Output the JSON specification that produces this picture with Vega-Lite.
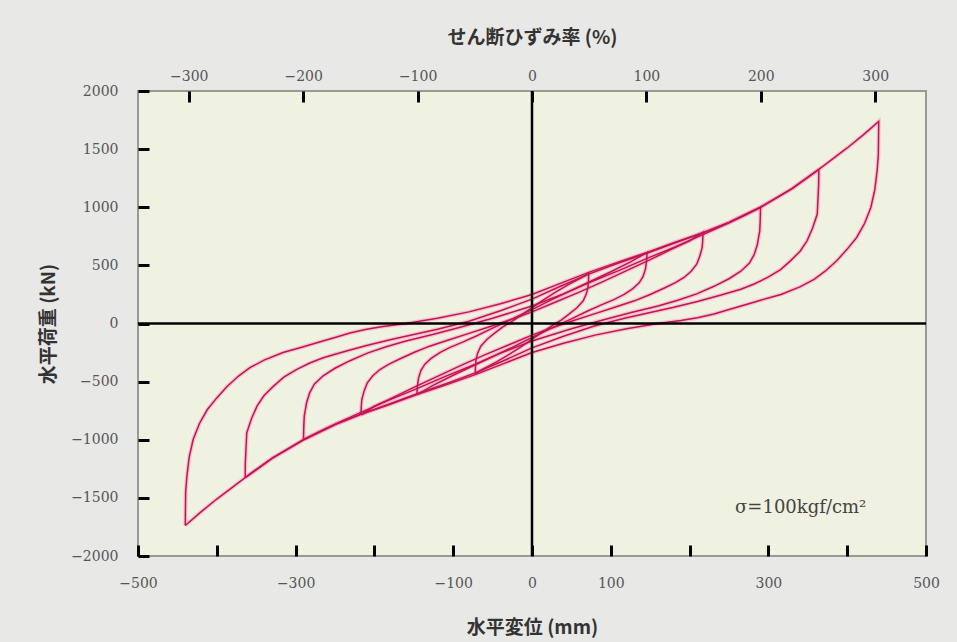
{
  "$schema": "https://vega.github.io/schema/vega-lite/v6.json",
  "width": 788,
  "height": 465,
  "autosize": {"type": "none"},
  "padding": {"left": 138, "top": 91, "right": 31, "bottom": 86},
  "background": "#e8e8e6",
  "config": {
    "view": {"fill": "#eff1e1", "stroke": "#9a9a92", "strokeWidth": 2},
    "axis": {
      "labelFont": "DejaVu Serif",
      "labelFontSize": 14,
      "labelColor": "#555555",
      "titleFont": "Noto Sans CJK JP",
      "titleFontSize": 19,
      "titleFontWeight": "bold",
      "titleColor": "#333333",
      "domain": false,
      "grid": false,
      "tickColor": "#000000",
      "tickWidth": 3,
      "tickSize": -11,
      "labelOverlap": false,
      "labelFlush": false,
      "format": "d"
    }
  },
  "datasets": {
    "loops": [
      {"c":1,"i":0,"x":-72,"y":-430},{"c":1,"i":1,"x":-71.7,"y":-370},{"c":1,"i":2,"x":-71,"y":-310},{"c":1,"i":3,"x":-69,"y":-255},{"c":1,"i":4,"x":-65,"y":-195},{"c":1,"i":5,"x":-57,"y":-135},{"c":1,"i":6,"x":-47,"y":-80},{"c":1,"i":7,"x":-37,"y":-30},{"c":1,"i":8,"x":-24,"y":25},{"c":1,"i":9,"x":-11,"y":85},{"c":1,"i":10,"x":0,"y":135},{"c":1,"i":11,"x":15,"y":205},{"c":1,"i":12,"x":30,"y":270},{"c":1,"i":13,"x":45,"y":330},{"c":1,"i":14,"x":60,"y":385},{"c":1,"i":15,"x":72,"y":430},
      {"c":1,"i":16,"x":72,"y":430},{"c":1,"i":17,"x":71.7,"y":370},{"c":1,"i":18,"x":71,"y":310},{"c":1,"i":19,"x":69,"y":255},{"c":1,"i":20,"x":65,"y":195},{"c":1,"i":21,"x":57,"y":135},{"c":1,"i":22,"x":47,"y":80},{"c":1,"i":23,"x":37,"y":30},{"c":1,"i":24,"x":24,"y":-25},{"c":1,"i":25,"x":11,"y":-85},{"c":1,"i":26,"x":0,"y":-135},{"c":1,"i":27,"x":-15,"y":-205},{"c":1,"i":28,"x":-30,"y":-270},{"c":1,"i":29,"x":-45,"y":-330},{"c":1,"i":30,"x":-60,"y":-385},{"c":1,"i":31,"x":-72,"y":-430},

      {"c":2,"i":0,"x":-146,"y":-611},{"c":2,"i":1,"x":-145.5,"y":-540},{"c":2,"i":2,"x":-144,"y":-470},{"c":2,"i":3,"x":-141,"y":-405},{"c":2,"i":4,"x":-136,"y":-350},{"c":2,"i":5,"x":-128,"y":-300},{"c":2,"i":6,"x":-117,"y":-250},{"c":2,"i":7,"x":-104,"y":-205},{"c":2,"i":8,"x":-88,"y":-160},{"c":2,"i":9,"x":-70,"y":-105},{"c":2,"i":10,"x":-50,"y":-40},{"c":2,"i":11,"x":-25,"y":40},{"c":2,"i":12,"x":0,"y":120},{"c":2,"i":13,"x":25,"y":205},{"c":2,"i":14,"x":50,"y":285},{"c":2,"i":15,"x":72,"y":355},{"c":2,"i":16,"x":100,"y":445},{"c":2,"i":17,"x":125,"y":530},{"c":2,"i":18,"x":146,"y":611},
      {"c":2,"i":19,"x":146,"y":611},{"c":2,"i":20,"x":145.5,"y":540},{"c":2,"i":21,"x":144,"y":470},{"c":2,"i":22,"x":141,"y":405},{"c":2,"i":23,"x":136,"y":350},{"c":2,"i":24,"x":128,"y":300},{"c":2,"i":25,"x":117,"y":250},{"c":2,"i":26,"x":104,"y":205},{"c":2,"i":27,"x":88,"y":160},{"c":2,"i":28,"x":70,"y":105},{"c":2,"i":29,"x":50,"y":40},{"c":2,"i":30,"x":25,"y":-40},{"c":2,"i":31,"x":0,"y":-120},{"c":2,"i":32,"x":-25,"y":-205},{"c":2,"i":33,"x":-50,"y":-285},{"c":2,"i":34,"x":-72,"y":-355},{"c":2,"i":35,"x":-100,"y":-445},{"c":2,"i":36,"x":-125,"y":-530},{"c":2,"i":37,"x":-146,"y":-611},

      {"c":3,"i":0,"x":-217,"y":-785},{"c":3,"i":1,"x":-216.7,"y":-720},{"c":3,"i":2,"x":-216,"y":-654},{"c":3,"i":3,"x":-213,"y":-580},{"c":3,"i":4,"x":-209,"y":-510},{"c":3,"i":5,"x":-202,"y":-450},{"c":3,"i":6,"x":-193,"y":-396},{"c":3,"i":7,"x":-182,"y":-352},{"c":3,"i":8,"x":-168,"y":-305},{"c":3,"i":9,"x":-150,"y":-250},{"c":3,"i":10,"x":-130,"y":-195},{"c":3,"i":11,"x":-105,"y":-140},{"c":3,"i":12,"x":-80,"y":-85},{"c":3,"i":13,"x":-50,"y":-20},{"c":3,"i":14,"x":-20,"y":50},{"c":3,"i":15,"x":0,"y":100},{"c":3,"i":16,"x":30,"y":185},{"c":3,"i":17,"x":60,"y":270},{"c":3,"i":18,"x":90,"y":360},{"c":3,"i":19,"x":120,"y":455},{"c":3,"i":20,"x":150,"y":550},{"c":3,"i":21,"x":180,"y":648},{"c":3,"i":22,"x":200,"y":712},{"c":3,"i":23,"x":217,"y":785},
      {"c":3,"i":24,"x":217,"y":785},{"c":3,"i":25,"x":216.7,"y":720},{"c":3,"i":26,"x":216,"y":654},{"c":3,"i":27,"x":213,"y":580},{"c":3,"i":28,"x":209,"y":510},{"c":3,"i":29,"x":202,"y":450},{"c":3,"i":30,"x":193,"y":396},{"c":3,"i":31,"x":182,"y":352},{"c":3,"i":32,"x":168,"y":305},{"c":3,"i":33,"x":150,"y":250},{"c":3,"i":34,"x":130,"y":195},{"c":3,"i":35,"x":105,"y":140},{"c":3,"i":36,"x":80,"y":85},{"c":3,"i":37,"x":50,"y":20},{"c":3,"i":38,"x":20,"y":-50},{"c":3,"i":39,"x":0,"y":-100},{"c":3,"i":40,"x":-30,"y":-185},{"c":3,"i":41,"x":-60,"y":-270},{"c":3,"i":42,"x":-90,"y":-360},{"c":3,"i":43,"x":-120,"y":-455},{"c":3,"i":44,"x":-150,"y":-550},{"c":3,"i":45,"x":-180,"y":-648},{"c":3,"i":46,"x":-200,"y":-712},{"c":3,"i":47,"x":-217,"y":-785},

      {"c":4,"i":0,"x":-290,"y":-1000},{"c":4,"i":1,"x":-289.7,"y":-900},{"c":4,"i":2,"x":-289,"y":-797},{"c":4,"i":3,"x":-286,"y":-680},{"c":4,"i":4,"x":-282,"y":-594},{"c":4,"i":5,"x":-276,"y":-520},{"c":4,"i":6,"x":-265,"y":-450},{"c":4,"i":7,"x":-250,"y":-385},{"c":4,"i":8,"x":-231,"y":-320},{"c":4,"i":9,"x":-209,"y":-255},{"c":4,"i":10,"x":-185,"y":-200},{"c":4,"i":11,"x":-160,"y":-150},{"c":4,"i":12,"x":-126,"y":-95},{"c":4,"i":13,"x":-90,"y":-30},{"c":4,"i":14,"x":-50,"y":45},{"c":4,"i":15,"x":0,"y":150},{"c":4,"i":16,"x":40,"y":255},{"c":4,"i":17,"x":72,"y":350},{"c":4,"i":18,"x":110,"y":455},{"c":4,"i":19,"x":146,"y":560},{"c":4,"i":20,"x":180,"y":655},{"c":4,"i":21,"x":217,"y":765},{"c":4,"i":22,"x":250,"y":865},{"c":4,"i":23,"x":270,"y":930},{"c":4,"i":24,"x":290,"y":1000},
      {"c":4,"i":25,"x":290,"y":1000},{"c":4,"i":26,"x":289.7,"y":900},{"c":4,"i":27,"x":289,"y":797},{"c":4,"i":28,"x":286,"y":680},{"c":4,"i":29,"x":282,"y":594},{"c":4,"i":30,"x":276,"y":520},{"c":4,"i":31,"x":265,"y":450},{"c":4,"i":32,"x":250,"y":385},{"c":4,"i":33,"x":231,"y":320},{"c":4,"i":34,"x":209,"y":255},{"c":4,"i":35,"x":185,"y":200},{"c":4,"i":36,"x":160,"y":150},{"c":4,"i":37,"x":126,"y":95},{"c":4,"i":38,"x":90,"y":30},{"c":4,"i":39,"x":50,"y":-45},{"c":4,"i":40,"x":0,"y":-150},{"c":4,"i":41,"x":-40,"y":-255},{"c":4,"i":42,"x":-72,"y":-350},{"c":4,"i":43,"x":-110,"y":-455},{"c":4,"i":44,"x":-146,"y":-560},{"c":4,"i":45,"x":-180,"y":-655},{"c":4,"i":46,"x":-217,"y":-765},{"c":4,"i":47,"x":-250,"y":-865},{"c":4,"i":48,"x":-270,"y":-930},{"c":4,"i":49,"x":-290,"y":-1000},

      {"c":5,"i":0,"x":-364,"y":-1325},{"c":5,"i":1,"x":-363.8,"y":-1200},{"c":5,"i":2,"x":-363,"y":-1084},{"c":5,"i":3,"x":-362,"y":-941},{"c":5,"i":4,"x":-356,"y":-820},{"c":5,"i":5,"x":-349,"y":-711},{"c":5,"i":6,"x":-340,"y":-620},{"c":5,"i":7,"x":-328,"y":-539},{"c":5,"i":8,"x":-315,"y":-462},{"c":5,"i":9,"x":-299,"y":-396},{"c":5,"i":10,"x":-282,"y":-340},{"c":5,"i":11,"x":-265,"y":-295},{"c":5,"i":12,"x":-240,"y":-245},{"c":5,"i":13,"x":-210,"y":-190},{"c":5,"i":14,"x":-180,"y":-140},{"c":5,"i":15,"x":-150,"y":-95},{"c":5,"i":16,"x":-120,"y":-50},{"c":5,"i":17,"x":-80,"y":20},{"c":5,"i":18,"x":-40,"y":110},{"c":5,"i":19,"x":0,"y":210},{"c":5,"i":20,"x":36,"y":320},{"c":5,"i":21,"x":72,"y":425},{"c":5,"i":22,"x":110,"y":520},{"c":5,"i":23,"x":146,"y":605},{"c":5,"i":24,"x":180,"y":690},{"c":5,"i":25,"x":217,"y":780},{"c":5,"i":26,"x":250,"y":870},{"c":5,"i":27,"x":290,"y":1000},{"c":5,"i":28,"x":330,"y":1160},{"c":5,"i":29,"x":364,"y":1325},
      {"c":5,"i":30,"x":364,"y":1325},{"c":5,"i":31,"x":363.8,"y":1200},{"c":5,"i":32,"x":363,"y":1084},{"c":5,"i":33,"x":362,"y":941},{"c":5,"i":34,"x":356,"y":820},{"c":5,"i":35,"x":349,"y":711},{"c":5,"i":36,"x":340,"y":620},{"c":5,"i":37,"x":328,"y":539},{"c":5,"i":38,"x":315,"y":462},{"c":5,"i":39,"x":299,"y":396},{"c":5,"i":40,"x":282,"y":340},{"c":5,"i":41,"x":265,"y":295},{"c":5,"i":42,"x":240,"y":245},{"c":5,"i":43,"x":210,"y":190},{"c":5,"i":44,"x":180,"y":140},{"c":5,"i":45,"x":150,"y":95},{"c":5,"i":46,"x":120,"y":50},{"c":5,"i":47,"x":80,"y":-20},{"c":5,"i":48,"x":40,"y":-110},{"c":5,"i":49,"x":0,"y":-210},{"c":5,"i":50,"x":-36,"y":-320},{"c":5,"i":51,"x":-72,"y":-425},{"c":5,"i":52,"x":-110,"y":-520},{"c":5,"i":53,"x":-146,"y":-605},{"c":5,"i":54,"x":-180,"y":-690},{"c":5,"i":55,"x":-217,"y":-780},{"c":5,"i":56,"x":-250,"y":-870},{"c":5,"i":57,"x":-290,"y":-1000},{"c":5,"i":58,"x":-330,"y":-1160},{"c":5,"i":59,"x":-364,"y":-1325},

      {"c":6,"i":0,"x":-440,"y":-1738},{"c":6,"i":1,"x":-439.8,"y":-1600},{"c":6,"i":2,"x":-439.5,"y":-1450},{"c":6,"i":3,"x":-438,"y":-1316},{"c":6,"i":4,"x":-435,"y":-1150},{"c":6,"i":5,"x":-430,"y":-998},{"c":6,"i":6,"x":-422,"y":-860},{"c":6,"i":7,"x":-412,"y":-740},{"c":6,"i":8,"x":-400,"y":-640},{"c":6,"i":9,"x":-387,"y":-542},{"c":6,"i":10,"x":-372,"y":-450},{"c":6,"i":11,"x":-358,"y":-380},{"c":6,"i":12,"x":-340,"y":-315},{"c":6,"i":13,"x":-316,"y":-250},{"c":6,"i":14,"x":-290,"y":-200},{"c":6,"i":15,"x":-273,"y":-165},{"c":6,"i":16,"x":-250,"y":-120},{"c":6,"i":17,"x":-231,"y":-82},{"c":6,"i":18,"x":-210,"y":-50},{"c":6,"i":19,"x":-189,"y":-25},{"c":6,"i":20,"x":-160,"y":0},{"c":6,"i":21,"x":-120,"y":45},{"c":6,"i":22,"x":-80,"y":100},{"c":6,"i":23,"x":-40,"y":170},{"c":6,"i":24,"x":0,"y":250},{"c":6,"i":25,"x":36,"y":345},{"c":6,"i":26,"x":72,"y":440},{"c":6,"i":27,"x":110,"y":530},{"c":6,"i":28,"x":146,"y":612},{"c":6,"i":29,"x":180,"y":695},{"c":6,"i":30,"x":217,"y":782},{"c":6,"i":31,"x":250,"y":870},{"c":6,"i":32,"x":290,"y":1000},{"c":6,"i":33,"x":330,"y":1160},{"c":6,"i":34,"x":364,"y":1325},{"c":6,"i":35,"x":400,"y":1510},{"c":6,"i":36,"x":420,"y":1620},{"c":6,"i":37,"x":440,"y":1738},
      {"c":6,"i":38,"x":440,"y":1738},{"c":6,"i":39,"x":439.8,"y":1600},{"c":6,"i":40,"x":439.5,"y":1450},{"c":6,"i":41,"x":438,"y":1316},{"c":6,"i":42,"x":435,"y":1150},{"c":6,"i":43,"x":430,"y":998},{"c":6,"i":44,"x":422,"y":860},{"c":6,"i":45,"x":412,"y":740},{"c":6,"i":46,"x":400,"y":640},{"c":6,"i":47,"x":387,"y":542},{"c":6,"i":48,"x":372,"y":450},{"c":6,"i":49,"x":358,"y":380},{"c":6,"i":50,"x":340,"y":315},{"c":6,"i":51,"x":316,"y":250},{"c":6,"i":52,"x":290,"y":200},{"c":6,"i":53,"x":273,"y":165},{"c":6,"i":54,"x":250,"y":120},{"c":6,"i":55,"x":231,"y":82},{"c":6,"i":56,"x":210,"y":50},{"c":6,"i":57,"x":189,"y":25},{"c":6,"i":58,"x":160,"y":0},{"c":6,"i":59,"x":120,"y":-45},{"c":6,"i":60,"x":80,"y":-100},{"c":6,"i":61,"x":40,"y":-170},{"c":6,"i":62,"x":0,"y":-250},{"c":6,"i":63,"x":-36,"y":-345},{"c":6,"i":64,"x":-72,"y":-440},{"c":6,"i":65,"x":-110,"y":-530},{"c":6,"i":66,"x":-146,"y":-612},{"c":6,"i":67,"x":-180,"y":-695},{"c":6,"i":68,"x":-217,"y":-782},{"c":6,"i":69,"x":-250,"y":-870},{"c":6,"i":70,"x":-290,"y":-1000},{"c":6,"i":71,"x":-330,"y":-1160},{"c":6,"i":72,"x":-364,"y":-1325},{"c":6,"i":73,"x":-400,"y":-1510},{"c":6,"i":74,"x":-420,"y":-1620},{"c":6,"i":75,"x":-440,"y":-1738}
    ]
  },
  "layer": [
    {
      "layer": [
        {
          "data": {"name": "loops"},
          "mark": {"type": "line", "stroke": "#f29ac0", "strokeWidth": 4, "opacity": 0.5, "interpolate": "linear"},
          "encoding": {
            "x": {
              "field": "x", "type": "quantitative",
              "scale": {"domain": [-500, 500], "nice": false, "zero": false},
              "axis": {
                "title": "水平変位 (mm)",
                "values": [-500, -400, -300, -200, -100, 0, 100, 200, 300, 400, 500],
                "labelExpr": "abs(datum.value) % 200 == 100 || datum.value == 0 ? datum.label : ''",
                "labelPadding": 31,
                "titlePadding": 28
              }
            },
            "y": {
              "field": "y", "type": "quantitative",
              "scale": {"domain": [-2000, 2000], "nice": false, "zero": false},
              "axis": {
                "title": "水平荷重 (kN)",
                "values": [-2000, -1500, -1000, -500, 0, 500, 1000, 1500, 2000],
                "labelPadding": 31,
                "titlePadding": 12
              }
            },
            "detail": {"field": "c", "type": "nominal"},
            "order": {"field": "i", "type": "quantitative"}
          }
        },
        {
          "data": {"name": "loops"},
          "mark": {"type": "line", "stroke": "#c4144f", "strokeWidth": 1.5, "interpolate": "linear"},
          "encoding": {
            "x": {"field": "x", "type": "quantitative"},
            "y": {"field": "y", "type": "quantitative"},
            "detail": {"field": "c", "type": "nominal"},
            "order": {"field": "i", "type": "quantitative"}
          }
        },
        {
          "data": {"values": [{}]},
          "mark": {"type": "rule", "color": "#000000", "strokeWidth": 2.5},
          "encoding": {"x": {"datum": 0}}
        },
        {
          "data": {"values": [{}]},
          "mark": {"type": "rule", "color": "#000000", "strokeWidth": 2.5},
          "encoding": {"y": {"datum": 0}}
        },
        {
          "data": {"values": [{"x": 341, "y": -1583, "t": "σ=100kgf/cm²"}]},
          "mark": {"type": "text", "font": "DejaVu Serif", "fontSize": 18, "color": "#444444"},
          "encoding": {
            "x": {"field": "x", "type": "quantitative"},
            "y": {"field": "y", "type": "quantitative"},
            "text": {"field": "t"}
          }
        }
      ]
    },
    {
      "data": {"values": [{"s": -300}, {"s": 300}]},
      "mark": {"type": "point", "opacity": 0},
      "encoding": {
        "x": {
          "field": "s", "type": "quantitative",
          "scale": {"domain": [-344.4, 344.4], "nice": false, "zero": false},
          "axis": {
            "orient": "top",
            "title": "せん断ひずみ率 (%)",
            "values": [-300, -200, -100, 0, 100, 200, 300],
            "labelPadding": 19,
            "titlePadding": 22
          }
        }
      }
    }
  ],
  "resolve": {"scale": {"x": "independent"}, "axis": {"x": "independent"}}
}
